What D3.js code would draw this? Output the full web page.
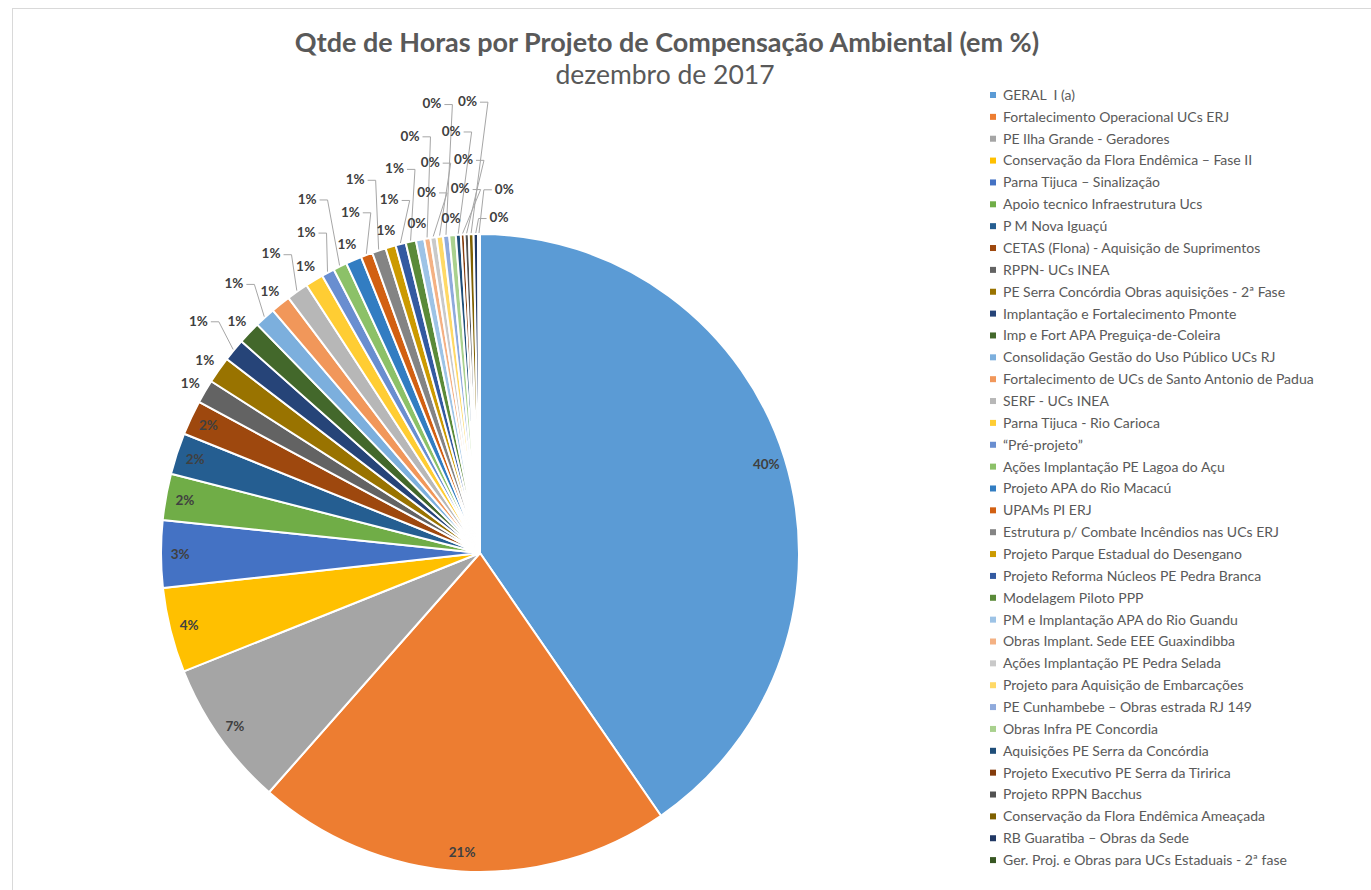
<!DOCTYPE html>
<html><head><meta charset="utf-8">
<script src="https://cdn.jsdelivr.net/npm/d3@7"></script>
<style>
body{margin:0;background:#fff;}
svg{display:block;}
text{font-family:Lato,"Open Sans",sans-serif;}
</style>
</head><body>
<svg id="c" width="1371" height="890"></svg>
<script>
const categories = [
"GERAL  I (a)",
"Fortalecimento Operacional UCs ERJ",
"PE Ilha Grande - Geradores",
"Conservação da Flora Endêmica – Fase II",
"Parna Tijuca – Sinalização",
"Apoio tecnico Infraestrutura Ucs",
"P M Nova Iguaçú",
"CETAS (Flona) - Aquisição de Suprimentos",
"RPPN- UCs INEA",
"PE Serra Concórdia Obras aquisições - 2ª Fase",
"Implantação e Fortalecimento Pmonte",
"Imp e Fort APA Preguiça-de-Coleira",
"Consolidação Gestão do Uso Público UCs RJ",
"Fortalecimento de UCs de Santo Antonio de Padua",
"SERF - UCs INEA",
"Parna Tijuca - Rio Carioca",
"“Pré-projeto”",
"Ações Implantação PE Lagoa do Açu",
"Projeto APA do Rio Macacú",
"UPAMs PI ERJ",
"Estrutura p/ Combate Incêndios nas UCs ERJ",
"Projeto Parque Estadual do Desengano",
"Projeto Reforma Núcleos PE Pedra Branca",
"Modelagem Piloto PPP",
"PM e Implantação APA do Rio Guandu",
"Obras Implant. Sede EEE Guaxindibba",
"Ações Implantação PE Pedra Selada",
"Projeto para Aquisição de Embarcações",
"PE Cunhambebe – Obras estrada RJ 149",
"Obras Infra PE Concordia",
"Aquisições PE Serra da Concórdia",
"Projeto Executivo PE Serra da Tiririca",
"Projeto RPPN Bacchus",
"Conservação da Flora Endêmica Ameaçada",
"RB Guaratiba – Obras da Sede",
"Ger. Proj. e Obras para UCs Estaduais - 2ª fase"
];
const values = [40.4, 21.1, 7.45, 4.3, 3.4, 2.35, 2.1, 1.75, 1.2, 1.35, 1.15, 1.15, 1.05, 1.0, 1.1, 0.92,
  0.65, 0.7, 0.8, 0.6, 0.7, 0.52, 0.52, 0.52, 0.42, 0.31, 0.31, 0.33, 0.31, 0.33, 0.25, 0.19, 0.21, 0.24, 0.22, 0.1];
const colors = ["#5B9BD5","#ED7D31","#A5A5A5","#FFC000","#4472C4","#70AD47",
  "#255E91","#9E480E","#636363","#997300","#264478","#43682B",
  "#7CAFDD","#F1975A","#B7B7B7","#FFCD33","#698ED0","#8CC168",
  "#327DC2","#D26012","#848484","#CC9A00","#335AA1","#5A8A39",
  "#9DC3E6","#F4B183","#C9C9C9","#FFD966","#8FAADC","#A9D18E",
  "#1F4E79","#843C0C","#525252","#7F6000","#203864","#385723"];
const title = "Qtde de Horas por Projeto de Compensação Ambiental (em %)";
const subtitle = "dezembro de 2017";

const W = 1371, H = 890;
const svg = d3.select("#c");
svg.append("rect").attr("x", 12.5).attr("y", 8.5).attr("width", W).attr("height", H)
  .attr("fill", "#fff").attr("stroke", "#d9d9d9").attr("stroke-width", 1);

svg.append("text").attr("x", 667).attr("y", 52).attr("text-anchor", "middle")
  .attr("font-size", 27).attr("font-weight", 700).attr("fill", "#595959").text(title);
svg.append("text").attr("x", 665).attr("y", 84).attr("text-anchor", "middle")
  .attr("font-size", 26.5).attr("fill", "#595959").text(subtitle);

const data = categories.map((c, i) => ({c, v: values[i], col: colors[i]}));
const total = d3.sum(values);
const cx = 480, cy = 553, R = 319;
const g = svg.append("g").attr("transform", `translate(${cx},${cy})`);
const pie = d3.pie().sort(null).value(d => d.v);
const arcs = pie(data);
const arc = d3.arc().innerRadius(0).outerRadius(R);

g.selectAll("path.slice").data(arcs).join("path").attr("class", "slice")
  .attr("d", arc).attr("fill", d => d.data.col)
  .attr("stroke", "#fff").attr("stroke-width", 2).attr("stroke-linejoin", "round");

// labels (greedy collision avoidance: push outward, then fan clockwise)
const placed = [];
const overlaps = b => placed.some(p => b.x < p.x + p.w && b.x + b.w > p.x && b.y < p.y + p.h && b.y + b.h > p.y);
const leaders = g.append("g");
const lg = g.append("g");
const deg = Math.PI / 180;
arcs.forEach(a => {
  const mid = (a.startAngle + a.endAngle) / 2;
  const frac = (a.endAngle - a.startAngle) / (2 * Math.PI);
  const pct = Math.round(a.data.v / total * 100);
  const t = lg.append("text").attr("font-size", 13.5).attr("font-weight", 700).attr("fill", "#404040")
    .attr("text-anchor", "middle").attr("dy", "0.35em").text(pct + "%");
  const w = t.node().getComputedTextLength(), h = 13;
  let r, ang = mid, box;
  const mk = (rr, aa) => ({x: rr * Math.sin(aa) - w / 2 - 6, y: -rr * Math.cos(aa) - h / 2 - 4, w: w + 12, h: h + 8});
  if (frac >= 0.015) {
    r = R * 0.94;
    box = {x: r * Math.sin(mid) - w / 2, y: -r * Math.cos(mid) - h / 2, w, h};
  } else {
    let found = false;
    for (let off = 0; off <= 40 && !found; off += 4) {
      for (let k = 0; k < 5 && !found; k++) {
        const rr = R + 17 + k * 29, aa = mid + off * deg;
        const b = mk(rr, aa);
        if (!overlaps(b)) { r = rr; ang = aa; box = b; found = true; }
      }
    }
    if (!found) { r = R + 17; box = mk(r, mid); }
  }
  placed.push(box);
  const lx = r * Math.sin(ang), ly = -r * Math.cos(ang);
  t.attr("x", lx).attr("y", ly);
  if (r > R + 30 || Math.abs(ang - mid) > 0.01) {
    const side = lx < (R + 1) * Math.sin(mid) ? 1 : -1;
    const ex = lx + side * (w / 2 + 3);
    const elbow = [ex + side * 8, ly + 1];
    const p0 = [(R + 1) * Math.sin(mid), -(R + 1) * Math.cos(mid)];
    leaders.append("path").attr("d", d3.line()([[ex, ly + 1], elbow, p0]))
      .attr("fill", "none").attr("stroke", "#a6a6a6").attr("stroke-width", 1);
  }
});

// legend
const leg = svg.append("g").attr("transform", "translate(990,95)");
const step = 21.86;
const items = leg.selectAll("g").data(data).join("g")
  .attr("transform", (d, i) => `translate(0,${i * step})`);
items.append("rect").attr("x", 0).attr("y", -3).attr("width", 6).attr("height", 6).attr("fill", d => d.col);
items.append("text").attr("x", 13).attr("dy", "0.35em").attr("font-size", 14).attr("fill", "#595959")
  .style("white-space", "pre").text(d => d.c);
</script>
</body></html>
